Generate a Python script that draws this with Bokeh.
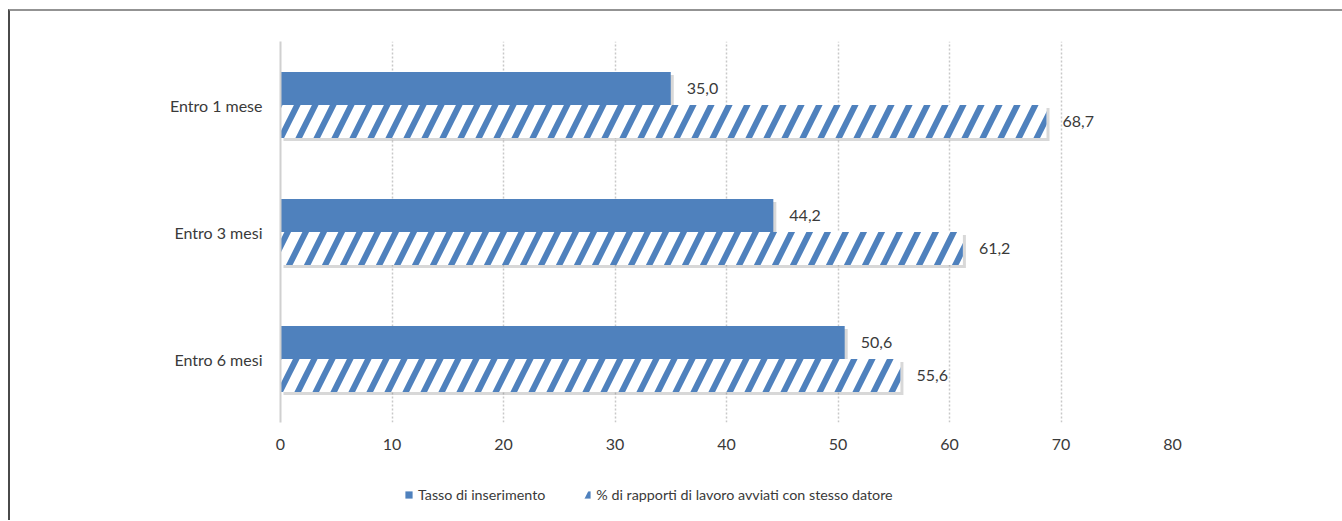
from bokeh.plotting import figure
from bokeh.layouts import column
from bokeh.models import (ColumnDataSource, FactorRange, Range1d, Legend, LegendItem,
                          LabelSet, FixedTicker)
from bokeh.core.properties import value
from bokeh.transform import dodge
from bokeh.embed import file_html
from bokeh.resources import INLINE

# ---- data ----
categories = ["Entro 1 mese", "Entro 3 mesi", "Entro 6 mesi"]
tasso_inserimento = [35.0, 44.2, 50.6]
stesso_datore = [68.7, 61.2, 55.6]
series_names = ["Tasso di inserimento", "% di rapporti di lavoro avviati con stesso datore"]
x_ticks = [0, 10, 20, 30, 40, 50, 60, 70, 80]

BLUE = "#4F81BD"
TEXT = "#3a3a3a"
FONT = "Lato"

def fmt(v):
    return f"{v:.1f}".replace(".", ",")

# shadow offsets (styling)
SDX = 0.27
SDY = 0.024

src = ColumnDataSource(dict(
    cat=categories,
    a=tasso_inserimento,
    b=stesso_datore,
    a_s=[v + SDX for v in tasso_inserimento],
    b_s=[v + SDX for v in stesso_datore],
    a_lab=[fmt(v) for v in tasso_inserimento],
    b_lab=[fmt(v) for v in stesso_datore],
))

p = figure(width=1332, height=451,
           y_range=FactorRange(*list(reversed(categories))),
           x_range=Range1d(0, 80),
           output_backend="svg", toolbar_location=None,
           min_border_left=270, min_border_right=170,
           min_border_top=30, min_border_bottom=40)
p.outline_line_color = None
p.background_fill_color = "white"
p.border_fill_color = "white"

H = 0.26
OFF = 0.13

solid_style = dict(fill_color=BLUE, line_color=None)
hatch_style = dict(fill_color="white", line_color=None, hatch_pattern="/",
                   hatch_color=BLUE, hatch_scale=36, hatch_weight=6)

# shadows
p.hbar(y=dodge("cat", OFF - SDY, range=p.y_range), left=SDX, right="a_s", height=H,
       source=src, fill_color="#7f7f7f", fill_alpha=0.3, line_color=None)
p.hbar(y=dodge("cat", -OFF - SDY, range=p.y_range), left=SDX, right="b_s", height=H,
       source=src, fill_color="#7f7f7f", fill_alpha=0.3, line_color=None)

p.hbar(y=dodge("cat", OFF, range=p.y_range), left=0, right="a", height=H,
       source=src, **solid_style)
p.hbar(y=dodge("cat", -OFF, range=p.y_range), left=0, right="b", height=H,
       source=src, **hatch_style)

for col, lab, off in (("a", "a_lab", OFF), ("b", "b_lab", -OFF)):
    p.add_layout(LabelSet(x=col, y=dodge("cat", off, range=p.y_range), text=lab,
                          source=src, x_offset=16, text_baseline="middle",
                          text_font=value(FONT), text_font_size=value("16px"),
                          text_color=value(TEXT)))

# axes
p.xaxis.ticker = FixedTicker(ticks=x_ticks)
p.xaxis.axis_line_color = None
p.xaxis.major_tick_line_color = None
p.xaxis.minor_tick_line_color = None
p.xaxis.major_label_standoff = 10
p.xaxis.major_label_text_font = FONT
p.xaxis.major_label_text_font_size = "16px"
p.xaxis.major_label_text_color = TEXT

p.yaxis.axis_line_color = "#d0d0d0"
p.yaxis.axis_line_width = 2
p.yaxis.major_tick_line_color = None
p.yaxis.minor_tick_line_color = None
p.yaxis.major_label_standoff = 12
p.yaxis.major_label_text_font = FONT
p.yaxis.major_label_text_font_size = "16px"
p.yaxis.major_label_text_color = TEXT

p.xgrid.grid_line_color = "#c8c8c8"
p.xgrid.grid_line_dash = "2 2"
p.xgrid.grid_line_width = 1.5
p.ygrid.grid_line_color = None

# legend strip (separate figure so that the legend is not clipped by the main frame)
leg = figure(width=1332, height=58, x_range=Range1d(0, 1), y_range=Range1d(0, 1),
             output_backend="svg", toolbar_location=None,
             x_axis_type=None, y_axis_type=None,
             min_border_left=270, min_border_right=170, min_border_top=0, min_border_bottom=0)
leg.outline_line_color = None
leg.xgrid.grid_line_color = None
leg.ygrid.grid_line_color = None
# placeholder glyphs outside the visible range: only their legend swatches are shown
hidden = ColumnDataSource(dict(y=[-1.0], r=[0.5]))
l1 = leg.hbar(y="y", left=0, right="r", height=0.1, source=hidden, **solid_style)
l2 = leg.hbar(y="y", left=0, right="r", height=0.1, source=hidden, **hatch_style)

legend = Legend(items=[LegendItem(label=series_names[0], renderers=[l1]),
                       LegendItem(label=series_names[1], renderers=[l2])],
                location=(124, 17), orientation="horizontal",
                glyph_width=9, glyph_height=9, label_standoff=5, spacing=37,
                padding=0, margin=0, border_line_color=None,
                background_fill_alpha=0,
                label_text_font=FONT, label_text_font_size="14.3px",
                label_text_color=TEXT)
leg.add_layout(legend)

layout = column(p, leg, spacing=0)
layout.styles = {"border-left": "2px solid #4a4a4a", "border-top": "2px solid #939393",
                 "margin-left": "8px", "margin-top": "9px"}

open("out.html", "w").write(file_html(layout, INLINE))
